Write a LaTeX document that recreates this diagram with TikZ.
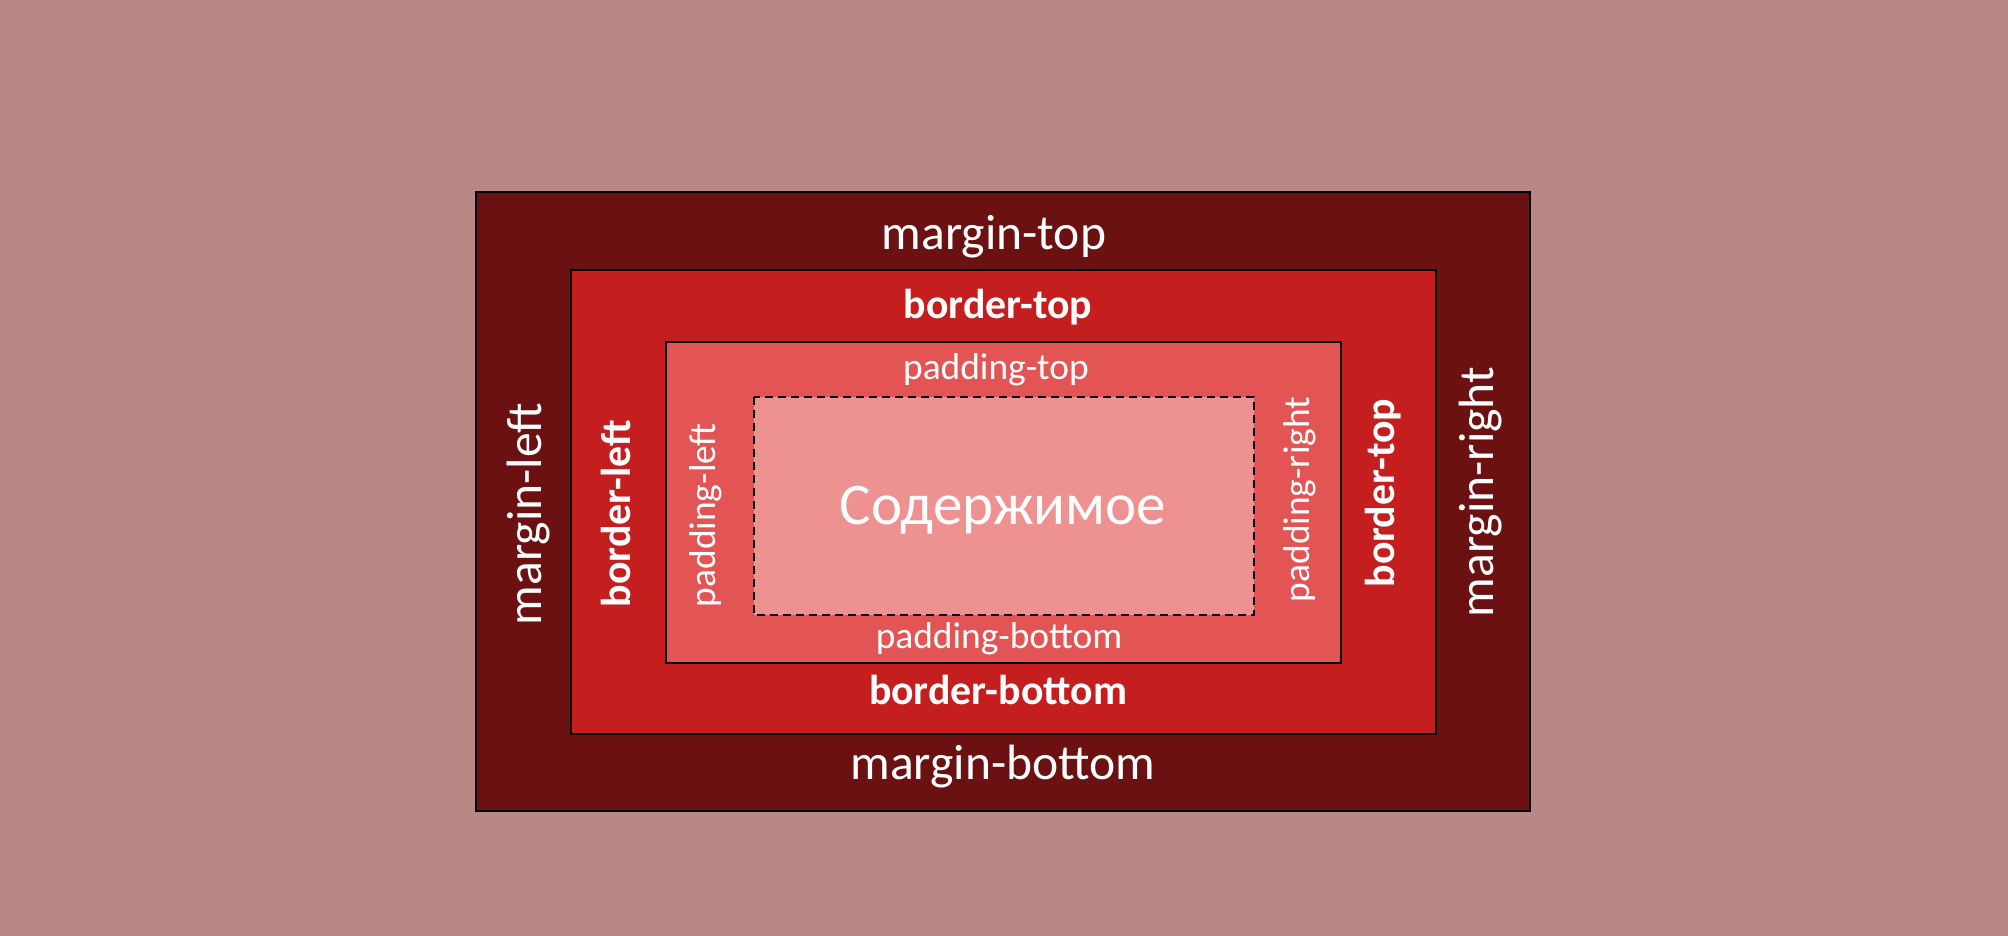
\documentclass[tikz,border=0pt]{standalone}
\usepackage{fontspec}
\setmainfont{Carlito}
\definecolor{bgc}{RGB}{185,135,132}
\definecolor{marginc}{RGB}{108,17,18}
\definecolor{borderc}{RGB}{196,30,31}
\definecolor{paddingc}{RGB}{227,84,84}
\definecolor{contentc}{RGB}{238,145,145}
\tikzset{
  boxline/.style={draw=black, line width=1pt},
  mtext/.style={text=white, inner sep=0pt, font=\fontsize{24.8}{28}\selectfont},
  btext/.style={text=white, inner sep=0pt, font=\fontsize{20.9}{24}\selectfont\bfseries},
  ptext/.style={text=white, inner sep=0pt, font=\fontsize{18.7}{22}\selectfont},
  ctext/.style={text=white, inner sep=0pt, font=\fontsize{29.5}{33}\selectfont},
}
\begin{document}
\begin{tikzpicture}[x=0.5pt,y=-0.5pt]
\fill[bgc] (0,0) rectangle (2008,936);
\useasboundingbox (0,0) rectangle (2008,936);
% boxes
\path[boxline, fill=marginc] (476,192) rectangle (1530,811);
\path[boxline, fill=borderc] (571,270) rectangle (1436,734);
\path[boxline, fill=paddingc] (666,342) rectangle (1341,663);
\path[draw=black, line width=1pt, dash pattern=on 4pt off 2.5pt, fill=contentc] (754,397) rectangle (1254,615);
% labels
\node[mtext] (mtop) at (994,236.5) {margin-top};
\node[btext] (btop) at (998,307) {border-top};
\node[ptext] (ptop) at (996,370) {padding-top};
\node[ctext] (content) at (1003,510.5) {Содержимое};
\node[ptext] (pbot) at (999,638.5) {padding-bottom};
\node[btext] (bbot) at (998,689.5) {border-bottom};
\node[mtext] (mbot) at (1003,767) {margin-bottom};
\node[mtext, rotate=90] (mleft) at (529,514) {margin-left};
\node[btext, rotate=90] (bleft) at (616,513.5) {border-left};
\node[ptext, rotate=90] (pleft) at (705.5,515) {padding-left};
\node[ptext, rotate=90] (pright) at (1300,499.5) {padding-right};
\node[btext, rotate=90] (bright) at (1383,493) {border-top};
\node[mtext, rotate=90] (mright) at (1480.5,492) {margin-right};
\end{tikzpicture}
\end{document}
